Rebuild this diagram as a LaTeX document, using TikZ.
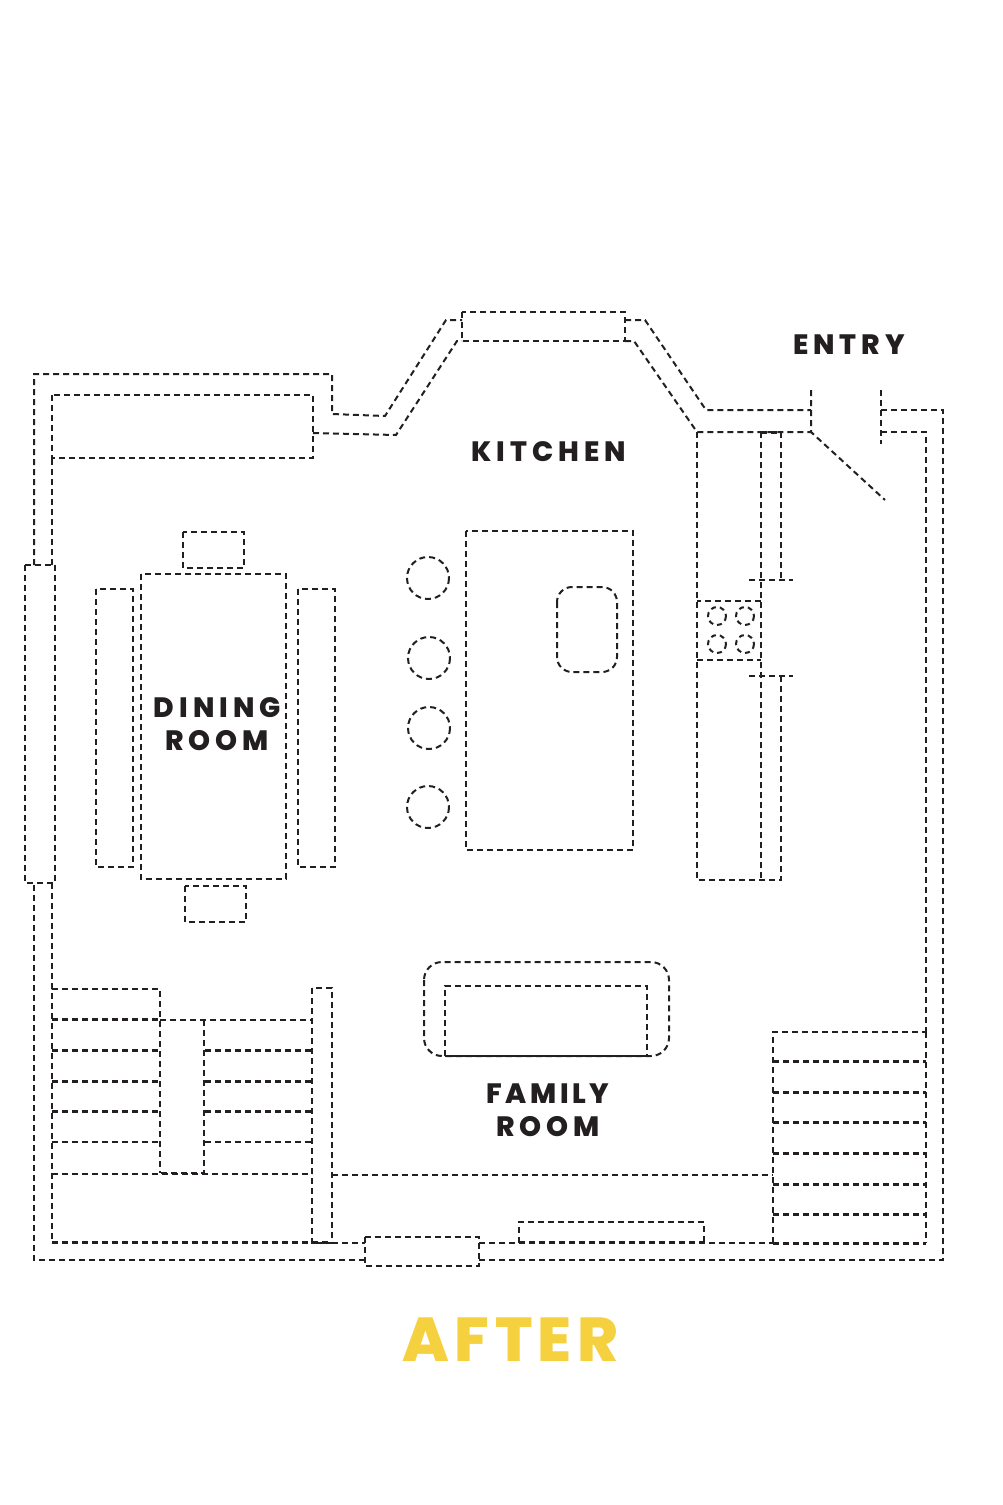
\documentclass[tikz,border=0pt]{standalone}
\usepackage{fontspec}
\setmainfont{Poppins}
\newfontfamily\lab{Poppins ExtraBold}[LetterSpace=18]
\newfontfamily\labnarrow{Poppins ExtraBold}[LetterSpace=12.5]
\newfontfamily\bigfam{Poppins ExtraBold}[LetterSpace=8.5]
\definecolor{ink}{HTML}{231F20}
\definecolor{gold}{HTML}{F5D03F}
\tikzset{
  wall/.style={draw=ink,line width=2pt,dash pattern=on 6pt off 4pt,line join=miter},
  thick wall/.style={wall,line width=2.5pt},
  heavy/.style={draw=ink,line width=3pt,dash pattern=on 6pt off 4pt},
  labeltext/.style={text=ink,font=\lab\fontsize{28}{33}\selectfont,align=center,inner sep=0pt}
}
\begin{document}
\begin{tikzpicture}[x=1pt,y=-1pt]
\useasboundingbox (0,0) rectangle (1003,1505);
% outer wall
\draw[wall] (34,565) -- (34,374) -- (332,374) -- (332,414) -- (385,416) -- (446,320) -- (462,320);
\draw[wall] (625,320) -- (645,320) -- (706,410) -- (811,410);
\draw[wall] (881,410) -- (943,410) -- (943,1260) -- (479,1260);
\draw[wall] (365,1260) -- (34,1260) -- (34,883);
% inner wall
\draw[wall] (52,565) -- (52,458);
\draw[wall] (52,883) -- (52,1243);
\draw[wall] (313,433) -- (396,435) -- (457,341) -- (462,341);
\draw[wall] (625,341) -- (634,341) -- (697,432) -- (811,432);
\draw[wall] (881,432) -- (926,432) -- (926,1032);
\draw[wall] (332,1243) -- (365,1243);
\draw[wall] (479,1243) -- (773,1243);
\draw[heavy] (52,1242) -- (332,1242);
% door
\draw[wall] (811,390) -- (811,432) -- (885,500);
\draw[wall] (881,390) -- (881,444);
% windows
\draw[wall] (52,395) rectangle (313,458);
\draw[wall] (462,312) rectangle (625,341);
\draw[wall] (25,565) rectangle (55,883);
\draw[wall] (365,1237) rectangle (479,1266);
% dining
\draw[wall] (141,574) rectangle (286,879);
\draw[wall] (183,532) rectangle (244,568);
\draw[wall] (185,886) rectangle (246,922);
\draw[wall] (96,589) rectangle (133,867);
\draw[wall] (298,589) rectangle (335,867);
% stools
\draw[wall] (428,578) circle (21);
\draw[wall] (429,658) circle (21);
\draw[wall] (429,728) circle (21);
\draw[wall] (428,807) circle (21);
% island
\draw[wall] (466,531) rectangle (633,850);
\draw[wall,rounded corners=15pt] (557,587) rectangle (617,672);
% counter
\draw[wall] (697,432) -- (697,880) -- (781,880) -- (781,676);
\draw[wall] (761,432) -- (761,880);
\draw[wall] (781,432) -- (781,580);
\draw[heavy] (761,432) -- (781,432);
\draw[wall] (749,580) -- (793,580);
\draw[wall] (749,676) -- (793,676);
\draw[wall] (761,601) -- (697,601);
\draw[wall] (697,660) -- (761,660);
\draw[wall,dash pattern=on 5pt off 4pt] (717,616) circle (9);
\draw[wall,dash pattern=on 5pt off 4pt] (745,616) circle (9);
\draw[wall,dash pattern=on 5pt off 4pt] (717,644) circle (9);
\draw[wall,dash pattern=on 5pt off 4pt] (745,644) circle (9);
% sofa
\draw[wall,rounded corners=18pt] (424,962) rectangle (669,1056);
\draw[wall] (445,1056) -- (445,986) -- (647,986) -- (647,1056);
\draw[draw=ink,line width=2pt] (445,1055.5) -- (647,1055.5);
% left stairs
\draw[wall] (52,1019) -- (52,989) -- (160,989) -- (160,1173);
\draw[wall] (160,1020) -- (312,1020);
\draw[thick wall] (204,1020) -- (204,1173);
\draw[wall] (161,1173) -- (204,1173);
\draw[wall] (52,1174) -- (312,1174);
\draw[wall] (52,1142) -- (160,1142);
\draw[wall] (205,1142) -- (312,1142);
\draw[heavy] (52,1019.5) -- (160,1019.5);
\foreach \yy in {1050,1081,1111.5}{
  \draw[heavy] (52,\yy) -- (160,\yy);
  \draw[heavy] (205,\yy) -- (312,\yy);
}
\draw[wall] (312,988) rectangle (332,1243);
\draw[wall] (332,1175) -- (773,1175);
% right stairs
\draw[wall] (773,1243) -- (773,1032) -- (926,1032);
\draw[heavy] (773,1243) -- (926,1243);
\draw[thick wall] (926,1032) -- (926,1243);
\foreach \yy in {1061,1092,1122,1153,1184,1214}{
  \draw[heavy] (773,\yy) -- (926,\yy);
}
\draw[wall] (519,1243) -- (519,1222) -- (704,1222) -- (704,1243);
\draw[heavy] (519,1242.5) -- (704,1242.5);
% labels
\node[labeltext] (entry) at (849,344.5) {ENTRY};
\node[labeltext] (kitchen) at (548.5,451.5) {KITCHEN};
\node[labeltext] (dining) at (217.5,708) {DINING};
\node[labeltext] (droom) at (217,741) {ROOM};
\node[labeltext,font=\labnarrow\fontsize{28}{33}\selectfont] (family) at (548,1094) {FAMILY};
\node[labeltext] (froom) at (548,1126.5) {ROOM};
\node[text=gold,inner sep=0pt,font=\bigfam\fontsize{62}{70}\selectfont] (after) at (510.5,1340) {AFTER};
\end{tikzpicture}
\end{document}
